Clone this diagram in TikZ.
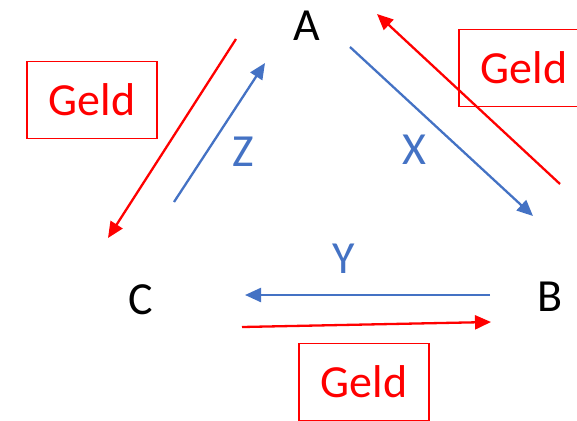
\documentclass[tikz,border=0pt]{standalone}
\usepackage{fontspec}
\setmainfont{Carlito}
\usetikzlibrary{arrows.meta}
\definecolor{ablue}{HTML}{4472C4}
\definecolor{ared}{HTML}{FF0000}
\begin{document}
\begin{tikzpicture}[x=1pt,y=-1pt,
  lbl/.style={font=\fontsize{46}{52}\selectfont, inner sep=0pt},
  bluearr/.style={draw=ablue, line width=2.3pt, -{Triangle[length=16pt,width=14pt]}},
  redarr/.style={draw=ared, line width=2.3pt, -{Triangle[length=16pt,width=14pt]}},
  geldbox/.style={draw=ared, line width=1.6pt, text=ared, font=\fontsize{46}{52}\selectfont, minimum width=130pt, minimum height=77pt, inner sep=0pt}]
\useasboundingbox (0,0) rectangle (577,420);
\clip (0,0) rectangle (577,420);
\node[lbl] (A) at (307,26) {A};
\node[lbl] (B) at (550,297) {B};
\node[lbl] (C) at (141,300) {C};
\node[geldbox] (g1) at (92,100) {Geld};
\node[geldbox] (g2) at (524,68) {Geld};
\node[geldbox] (g3) at (364,382) {Geld};
\node[lbl, text=ablue] (Z) at (243,152) {Z};
\node[lbl, text=ablue] (X) at (414,150) {X};
\node[lbl, text=ablue] (Y) at (344,259) {Y};
\coordinate (r1s) at (236,39);  \coordinate (r1e) at (108,238);
\coordinate (zs) at (174,202);  \coordinate (ze) at (265,63);
\coordinate (xs) at (350,47);   \coordinate (xe) at (533,216);
\coordinate (r2s) at (560,184); \coordinate (r2e) at (377,14);
\coordinate (ys) at (490,295);  \coordinate (ye) at (245,295);
\coordinate (r3s) at (242,327); \coordinate (r3e) at (491,322);
\draw[redarr] (r1s) -- (r1e);
\draw[bluearr] (zs) -- (ze);
\draw[bluearr] (xs) -- (xe);
\draw[redarr] (r2s) -- (r2e);
\draw[bluearr] (ys) -- (ye);
\draw[redarr] (r3s) -- (r3e);
\end{tikzpicture}
\end{document}
